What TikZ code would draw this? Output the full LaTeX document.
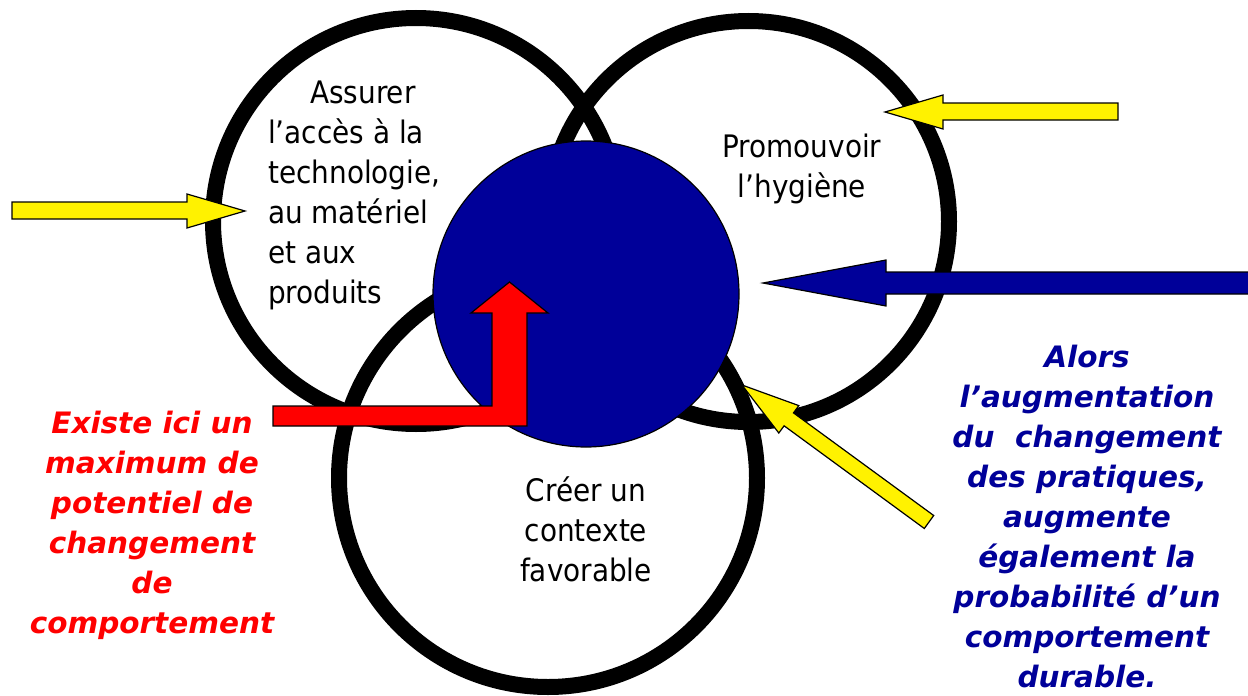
\documentclass[tikz,border=0pt]{standalone}
\usepackage{fontspec}
\setmainfont{DejaVu Sans Condensed}
\newfontfamily\remarkfont{DejaVu Sans}
\definecolor{navy}{RGB}{0,0,153}

\begin{document}
\begin{tikzpicture}[x=1pt, y=-1pt,
  ring/.style={draw=black, line width=16pt, circle, inner sep=0pt},
  core/.style={draw=black, line width=1.2pt, fill=navy, circle, inner sep=0pt},
  blockarrow/.style={draw=black, line width=1.2pt, line join=miter},
  circletext/.style={font=\fontsize{31}{40}\selectfont, inner sep=0pt},
  remark/.style={font=\remarkfont\bfseries\itshape\fontsize{29.5}{40}\selectfont, align=center, inner sep=0pt}]
\useasboundingbox (0,0) rectangle (1248,696);

% the three rings and the centre
\node [ring, minimum size=406] (tech) at (416,221) {};
\node [ring, minimum size=401] (hyg) at (748.5,221.5) {};
\node [ring, minimum size=418] (ctx) at (548,478) {};
\node [core, minimum size=306] (centre) at (586,294) {};

% arrows
\draw [blockarrow, fill=yellow] (12,202) -- (187,202) -- (187,194) -- (245,211) -- (187,228) -- (187,219) -- (12,219) -- cycle;
\draw [blockarrow, fill=yellow] (1118,103) -- (943,103) -- (943,95) -- (885,112) -- (943,129) -- (943,120) -- (1118,120) -- cycle;
\draw [blockarrow, fill=navy] (1260,272) -- (886,272) -- (886,260) -- (763,283) -- (886,306) -- (886,294) -- (1260,294) -- cycle;
\draw [blockarrow, fill=yellow] (933.7,515.5) -- (793.5,412.9) -- (798.8,405.6) -- (742,385) -- (778.8,433.0) -- (784.1,425.8) -- (924.3,528.5) -- cycle;
\draw [blockarrow, fill=red] (273,406) -- (492,406) -- (492,313) -- (471,313) -- (509.5,282) -- (548,313) -- (527,313) -- (527,426) -- (273,426) -- cycle;

% texts
\node [circletext, anchor=north west, align=left] (techtext) at (268,81)
  {\hspace*{42pt}Assurer\\l’accès à la\\technologie,\\au matériel\\et aux\\produits};
\node [circletext, anchor=north, align=center] (hygtext) at (802,134) {Promouvoir\\l’hygiène};
\node [circletext, anchor=north, align=center] (ctxtext) at (586,476) {Créer un\\contexte\\favorable};

\node [remark, anchor=north, text=red] (maxtext) at (152,411)
  {Existe ici un\\maximum de\\potentiel de\\changement\\de\\comportement};
\node [remark, anchor=north, text=navy] (durtext) at (1087,345)
  {Alors\\l’augmentation\\du\ \ changement\\des pratiques,\\augmente\\également la\\probabilité d’un\\comportement\\durable.};
\end{tikzpicture}
\end{document}
